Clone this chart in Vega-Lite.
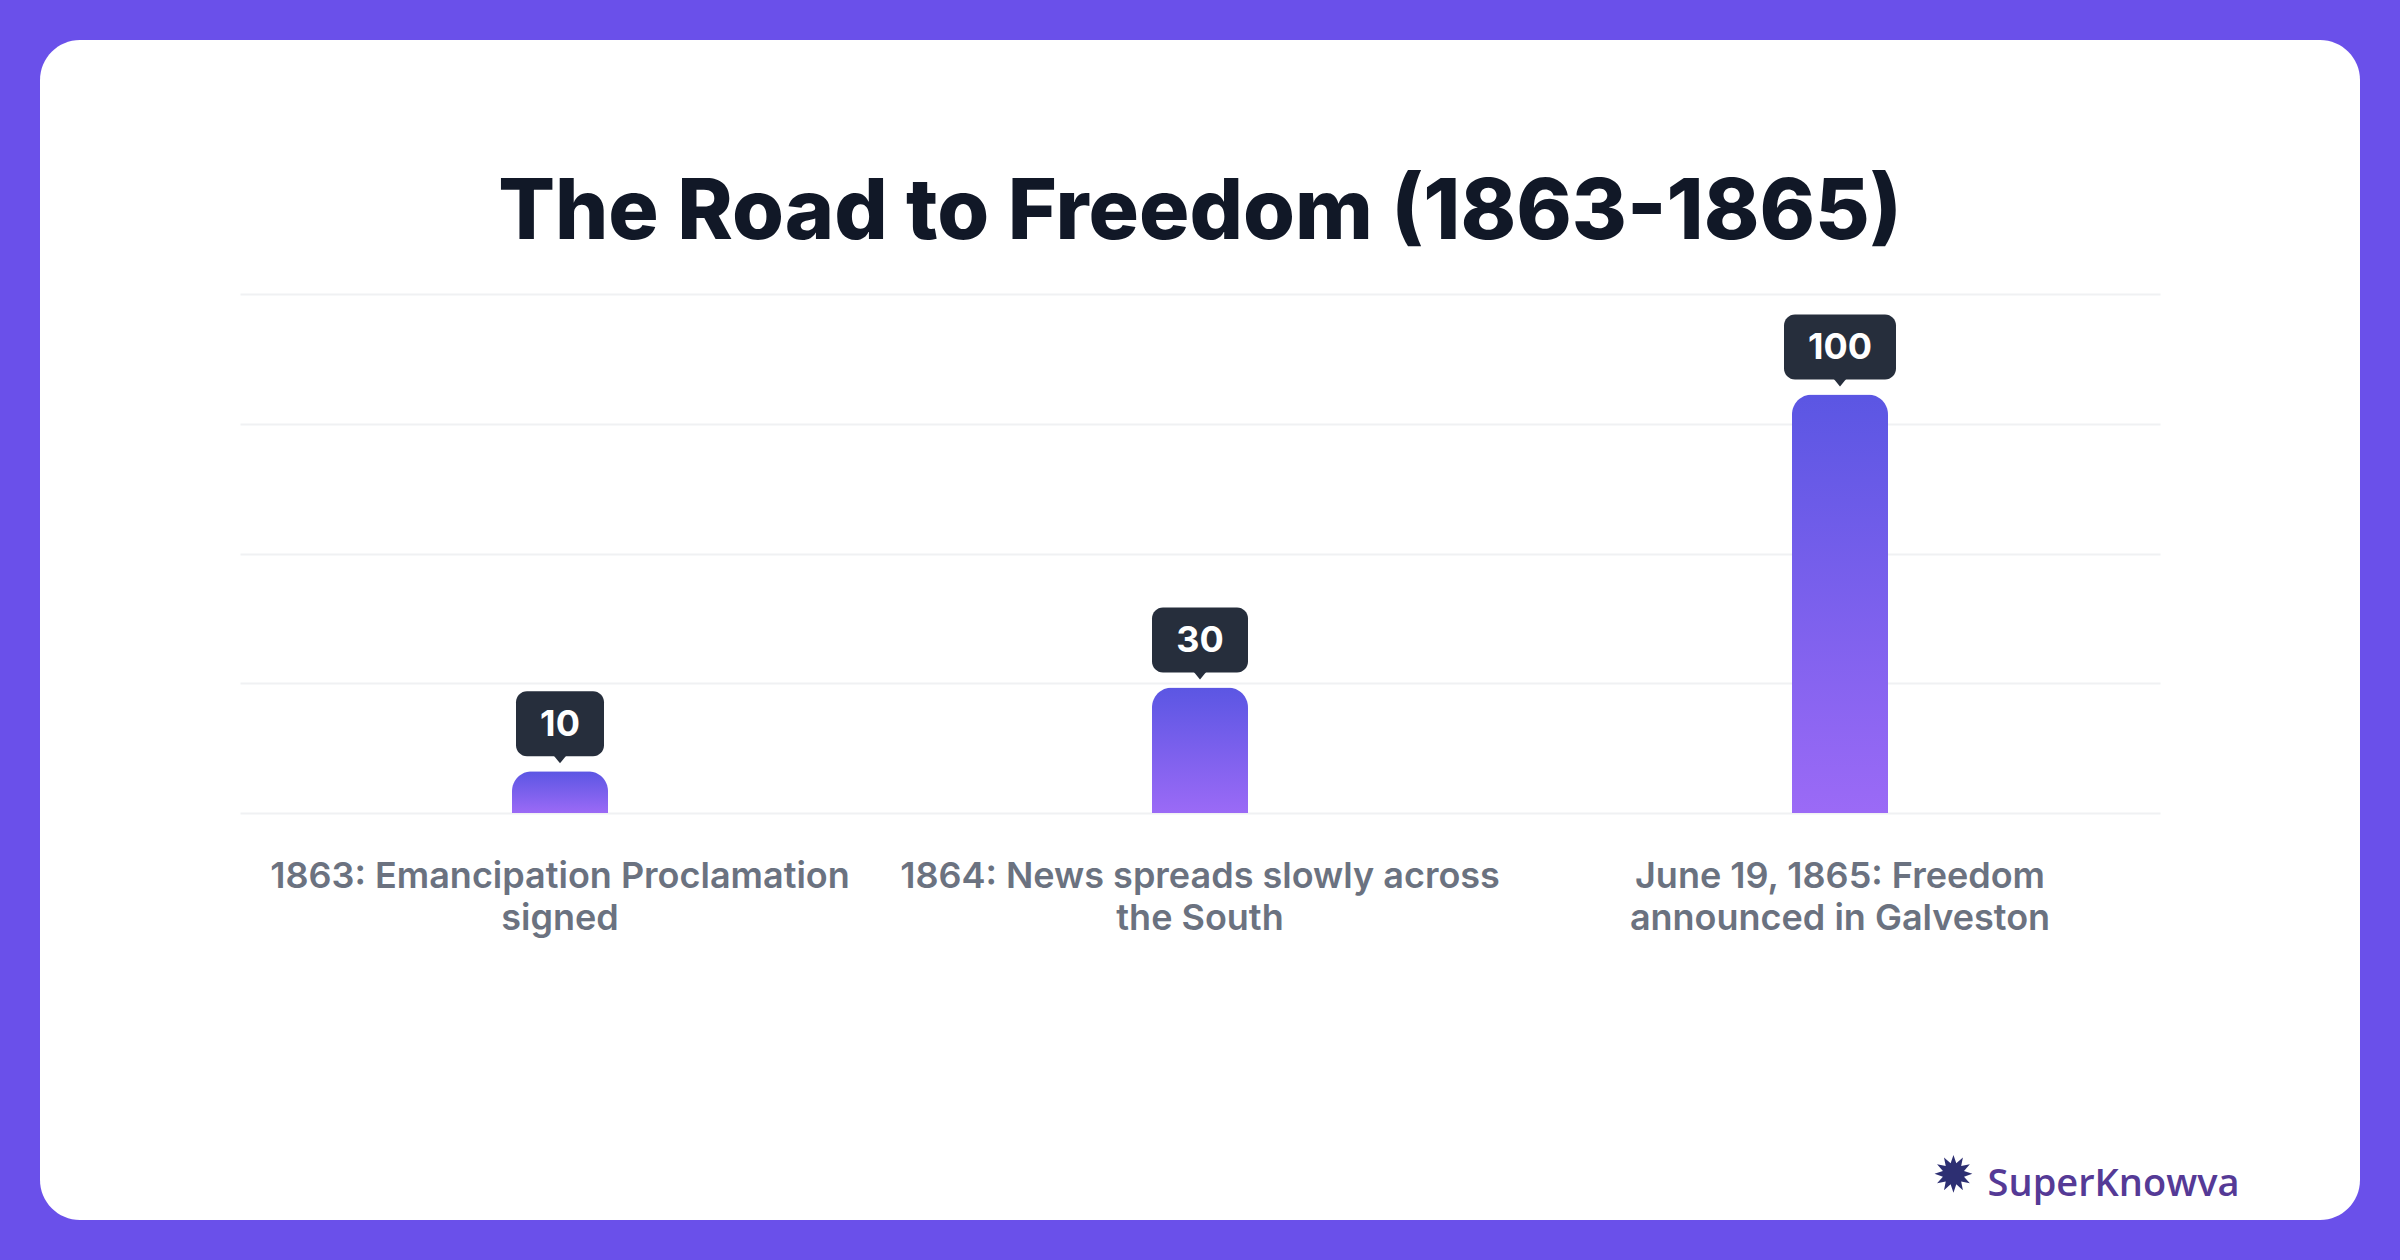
{
  "$schema": "https://vega.github.io/schema/vega-lite/v6.json",
  "width": 2320,
  "height": 1180,
  "padding": 40,
  "autosize": {"type": "none"},
  "background": "#6a50ea",
  "title": {
    "text": "The Road to Freedom (1863-1865)",
    "font": "Inter",
    "fontSize": 84,
    "fontWeight": 800,
    "color": "#111827",
    "anchor": "middle",
    "frame": "group",
    "baseline": "alphabetic",
    "offset": -283
  },
  "data": {
    "values": [
      {"event": "1863: Emancipation Proclamation signed", "value": 10},
      {"event": "1864: News spreads slowly across the South", "value": 30},
      {"event": "June 19, 1865: Freedom announced in Galveston", "value": 100}
    ]
  },
  "encoding": {
    "x": {
      "field": "event",
      "type": "nominal",
      "sort": null,
      "scale": {"range": [200, 2120], "paddingInner": 0.85, "paddingOuter": 0.425},
      "axis": {
        "orient": "bottom",
        "offset": -407,
        "domain": false,
        "ticks": false,
        "labelAngle": 0,
        "labelFont": "Inter",
        "labelFontSize": 36,
        "labelFontWeight": 600,
        "labelColor": "#6b7280",
        "labelLineHeight": 42,
        "labelPadding": 46,
        "labelLimit": 900,
        "labelExpr": "datum.label == '1863: Emancipation Proclamation signed' ? ['1863: Emancipation Proclamation', 'signed'] : datum.label == '1864: News spreads slowly across the South' ? ['1864: News spreads slowly across', 'the South'] : ['June 19, 1865: Freedom', 'announced in Galveston']",
        "title": "SuperKnowva",
        "titleFont": "Open Sans",
        "titleFontWeight": 600,
        "titleFontSize": 38,
        "titleColor": "#553a96",
        "titleX": 2199,
        "titleY": 382,
        "titleAlign": "right",
        "titleBaseline": "alphabetic"
      }
    },
    "y": {
      "field": "value",
      "type": "quantitative",
      "scale": {"domain": [0, 124], "range": [773, 254], "nice": false, "zero": true},
      "axis": {
        "values": [0, 31, 62, 93, 124],
        "grid": true,
        "gridColor": "#f0f1f3",
        "gridWidth": 2,
        "labels": false,
        "ticks": false,
        "domain": false,
        "title": "✹",
        "titleFont": "DejaVu Sans",
        "titleFontSize": 50,
        "titleFontWeight": "normal",
        "titleColor": "#2d2f72",
        "titleAngle": 0,
        "titleX": 1913,
        "titleY": 1136,
        "titleAlign": "center",
        "titleBaseline": "middle"
      }
    }
  },
  "layer": [
    {
      "mark": {
        "type": "bar",
        "cornerRadiusTopLeft": 20,
        "cornerRadiusTopRight": 20,
        "color": {"gradient": "linear", "x1": 0, "y1": 0, "x2": 0, "y2": 1, "stops": [{"offset": 0, "color": "#5b56e3"}, {"offset": 1, "color": "#9b6af6"}]}
      }
    },
    {
      "mark": {"type": "bar", "color": "#262e3c", "cornerRadius": 11, "yOffset": -80, "y2Offset": -15},
      "encoding": {
        "y2": {"field": "value"},
        "size": {"condition": [{"test": "datum.value >= 100", "value": 112}, {"test": "datum.value == 30", "value": 96}], "value": 88}
      }
    },
    {
      "mark": {"type": "point", "shape": "M-1,-0.2L1,-0.2L0,1Z", "filled": true, "opacity": 1, "color": "#262e3c", "size": 196, "yOffset": -15, "strokeWidth": 0}
    },
    {
      "mark": {"type": "text", "font": "Inter", "fontSize": 36, "fontWeight": 700, "color": "#ffffff", "baseline": "middle", "align": "center", "yOffset": -46},
      "encoding": {"text": {"field": "value", "type": "quantitative"}}
    }
  ],
  "config": {
    "view": {"fill": "#ffffff", "cornerRadius": 40, "stroke": null}
  }
}
